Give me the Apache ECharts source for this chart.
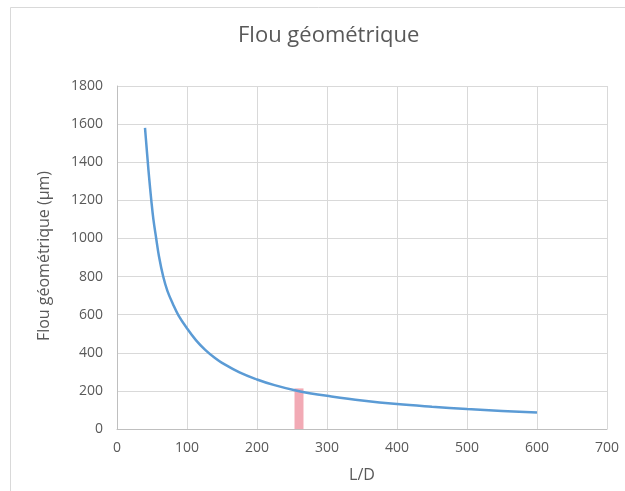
<!DOCTYPE html>
<html>
<head>
<meta charset="utf-8">
<script src="https://cdn.jsdelivr.net/npm/echarts@6/dist/echarts.min.js"></script>
<style>
html,body{margin:0;padding:0;background:#fff;}
#c{width:625px;height:491px;}
</style>
</head>
<body>
<div id="c"></div>
<script>
// Data
const ldValues   = [40, 42, 44, 46, 49, 52, 56, 60, 66, 72, 80, 88, 100, 113, 126, 140, 150, 175, 200, 225, 254, 275, 300, 350, 400, 450, 500, 550, 600];
const flouValues = [1580, 1490, 1400, 1315, 1200, 1100, 1000, 905, 800, 725, 655, 595, 528, 465, 415, 372, 347, 297, 260, 230, 203, 188, 174, 150, 131, 117, 105, 95, 86];
const markerX = [260];
const markerY = [213];
const xTicks = [0, 700, 100];
const yTicks = [0, 1800, 200];
const titleText = 'Flou géométrique';
const xName = 'L/D';
const yName = 'Flou géométrique (µm)';

const font = '"Open Sans", sans-serif';
const txt = '#595959';

const chart = echarts.init(document.getElementById('c'), null, {renderer: 'canvas'});
chart.setOption({
  animation: false,
  backgroundColor: '#fff',
  title: {
    text: titleText, left: 233, top: 20,
    textStyle: {fontFamily: font, fontSize: 22, fontWeight: 'normal', color: txt}
  },
  grid: {left: 117, right: 18, top: 86, bottom: 62},
  xAxis: {
    type: 'value', min: xTicks[0], max: xTicks[1], interval: xTicks[2],
    name: xName, nameLocation: 'middle', nameGap: 38,
    nameTextStyle: {fontFamily: font, fontSize: 16, color: txt},
    axisLine: {show: true, lineStyle: {color: '#bfbfbf', width: 1}},
    axisTick: {show: false},
    axisLabel: {fontFamily: font, fontSize: 14, color: txt, margin: 12, formatter: v => String(v)},
    splitLine: {show: true, lineStyle: {color: '#d9d9d9', width: 1}}
  },
  yAxis: {
    type: 'value', min: yTicks[0], max: yTicks[1], interval: yTicks[2],
    axisLine: {show: true, lineStyle: {color: '#bfbfbf', width: 1}},
    axisTick: {show: false},
    axisLabel: {fontFamily: font, fontSize: 14, color: txt, margin: 14, formatter: v => String(v)},
    splitLine: {show: true, lineStyle: {color: '#d9d9d9', width: 1}}
  },
  graphic: [
    {type: 'rect', shape: {x: 10.5, y: 7.5, width: 700, height: 600},
     style: {fill: 'none', stroke: '#d9d9d9', lineWidth: 1}, z: -10, silent: true},
    {type: 'text', x: 44, y: 256, rotation: Math.PI / 2,
     style: {text: yName, fontFamily: font, fontSize: 16, fill: txt,
             align: 'center', verticalAlign: 'middle'}}
  ],
  series: [
    {
      type: 'bar', data: markerX.map((x, i) => [x, markerY[i]]),
      barWidth: 9, itemStyle: {color: '#f2aab5'}, z: 1
    },
    {
      type: 'line', data: ldValues.map((x, i) => [x, flouValues[i]]),
      smooth: 0.4, showSymbol: false,
      lineStyle: {color: '#5b9bd5', width: 2.5}, z: 3
    }
  ]
});
</script>
</body>
</html>
